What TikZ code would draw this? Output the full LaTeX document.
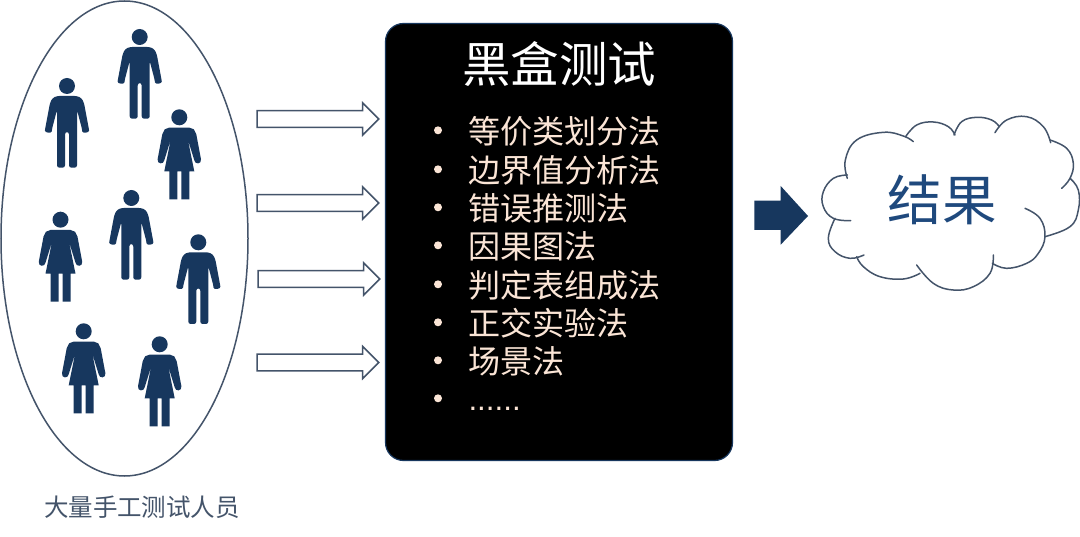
\documentclass[tikz,border=0pt]{standalone}
\usepackage{fontspec}
\setmainfont{Noto Sans CJK SC}
\newfontfamily\dotfont{Liberation Sans}
\definecolor{navy}{HTML}{17375E}
\definecolor{slate}{HTML}{44546A}
\definecolor{cream}{HTML}{FBE5D6}
\definecolor{cloudtext}{HTML}{1F497D}
\tikzset{
  itemtext/.style={anchor=west,text=cream,font=\fontsize{32.1}{32}\selectfont,inner sep=0pt},
  bulletdot/.style={circle,fill=cream,minimum size=8pt,inner sep=0pt},
  blockarrow/.style={draw=slate,fill=white,line width=1.5pt,line join=miter},
  lobe/.style={draw=slate,line width=1.5pt,line cap=round},
  man/.pic={
    \fill[navy] (0,0) circle (8);
    \fill[navy,rounded corners=2.4pt] (-10,10) -- (-14.5,12) -- (-17,17) -- (-21.7,42) .. controls (-22.5,47) and (-15.5,47.5) .. (-15,43) -- (-10,24) -- (-10,81.7) -- (-2,81.7) -- (-2,46) -- (2,46) -- (2,81.7) -- (10,81.7) -- (10,24) -- (15,43) .. controls (15.5,47.5) and (22.5,47) .. (21.7,42) -- (17,17) -- (14.5,12) -- (10,10) -- cycle;
  },
  woman/.pic={
    \fill[navy] (0,0) circle (8);
    \fill[navy] (-10,10.3) -- (-14.5,12) -- (-17,17) -- (-21.7,42) .. controls (-22.5,47) and (-15.5,47.5) .. (-15,43) -- (-8.5,22) -- (-15,54) -- (-10,54) -- (-10,82) -- (-2,82) -- (-2,54) -- (2,54) -- (2,82) -- (10,82) -- (10,54) -- (15,54) -- (8.5,22) -- (15,43) .. controls (15.5,47.5) and (22.5,47) .. (21.7,42) -- (17,17) -- (14.5,12) -- (10,10.3) -- cycle;
  },
}
\begin{document}
\begin{tikzpicture}[x=1pt,y=-1pt]
\useasboundingbox (0,0) rectangle (1080,537);
\fill[white] (0,0) rectangle (1080,537);
\draw[slate,line width=1.5pt] (124.5,238.5) ellipse [x radius=123.5,y radius=237.5];
\pic at (139.7,37) {man};
\pic at (67,86) {man};
\pic at (131.3,198) {man};
\pic at (198.3,242.3) {man};
\pic at (179.3,117.3) {woman};
\pic at (60.5,219.7) {woman};
\pic at (83.7,331.3) {woman};
\pic at (159.7,344.3) {woman};
\node[text=slate,font=\fontsize{24.5}{24}\selectfont,inner sep=0pt] (crowd) at (142,507) {大量手工测试人员};
\foreach \cy/\ax in {119/0,203/0,279/1,362.5/0}{
  \draw[blockarrow] (257+\ax,\cy-8.3) -- (362.7+\ax,\cy-8.3) -- (362.7+\ax,\cy-16) -- (378.7+\ax,\cy) -- (362.7+\ax,\cy+16) -- (362.7+\ax,\cy+8.3) -- (257+\ax,\cy+8.3) -- cycle;
}
\draw[fill=black,draw=navy,line width=1.2pt,rounded corners=18pt] (385.5,23.5) rectangle (732.5,460.5);
\node[text=white,font=\fontsize{48.5}{48}\selectfont,inner sep=0pt] (title) at (559,64) {黑盒测试};
\foreach \yy/\tx in {131/等价类划分法,170/边界值分析法,208/错误推测法,246/因果图法,285/判定表组成法,323/正交实验法,361/场景法}{
  \node[bulletdot] at (438,\yy-0.7) {};
  \node[itemtext] at (468,\yy) {\tx};
}
\node[bulletdot] at (438,398.3) {};
\node[text=cream,font=\dotfont\fontsize{31.3}{31}\selectfont,inner sep=0pt,anchor=base west] (more) at (468.3,411) {......};
\draw[fill=navy,draw=none] (754.3,200.7) -- (780.7,200.7) -- (780.7,186) -- (808,216) -- (780.7,244.7) -- (780.7,230) -- (754.3,230) -- cycle;
\begin{scope}[shift={(740,110)},x=0.33333pt,y=-0.33333pt,smooth,tension=0.7]
\draw[lobe] plot coordinates {(322,205)(316,150)(350,90)(430,67)(490,78)(520,95)};
\draw[lobe] plot coordinates {(497,80)(530,45)(580,36)(625,50)(645,75)};
\draw[lobe] plot coordinates {(642,75)(665,35)(710,22)(755,30)(778,50)};
\draw[lobe] plot coordinates {(765,68)(800,30)(860,20)(910,50)(932,98)};
\draw[lobe] plot coordinates {(930,90)(980,115)(1000,160)(990,205)(965,235)};
\draw[lobe] plot coordinates {(990,205)(1015,240)(1015,300)(990,350)(915,380)};
\draw[lobe] plot coordinates {(855,295)(900,325)(915,380)(895,430)(860,460)(800,475)(757,460)};
\draw[lobe] plot coordinates {(760,435)(750,490)(700,530)(640,540)(580,520)(530,465)};
\draw[lobe] plot coordinates {(540,490)(490,507)(420,500)(370,470)(350,440)};
\draw[lobe] plot coordinates {(372,435)(330,445)(285,425)(265,385)(285,325)};
\draw[lobe] plot coordinates {(332,332)(280,325)(250,290)(250,245)(280,205)(322,195)};
\end{scope}
\node[text=cloudtext,font=\fontsize{54.5}{54}\selectfont,inner sep=0pt] (result) at (942,200) {结果};
\end{tikzpicture}
\end{document}
